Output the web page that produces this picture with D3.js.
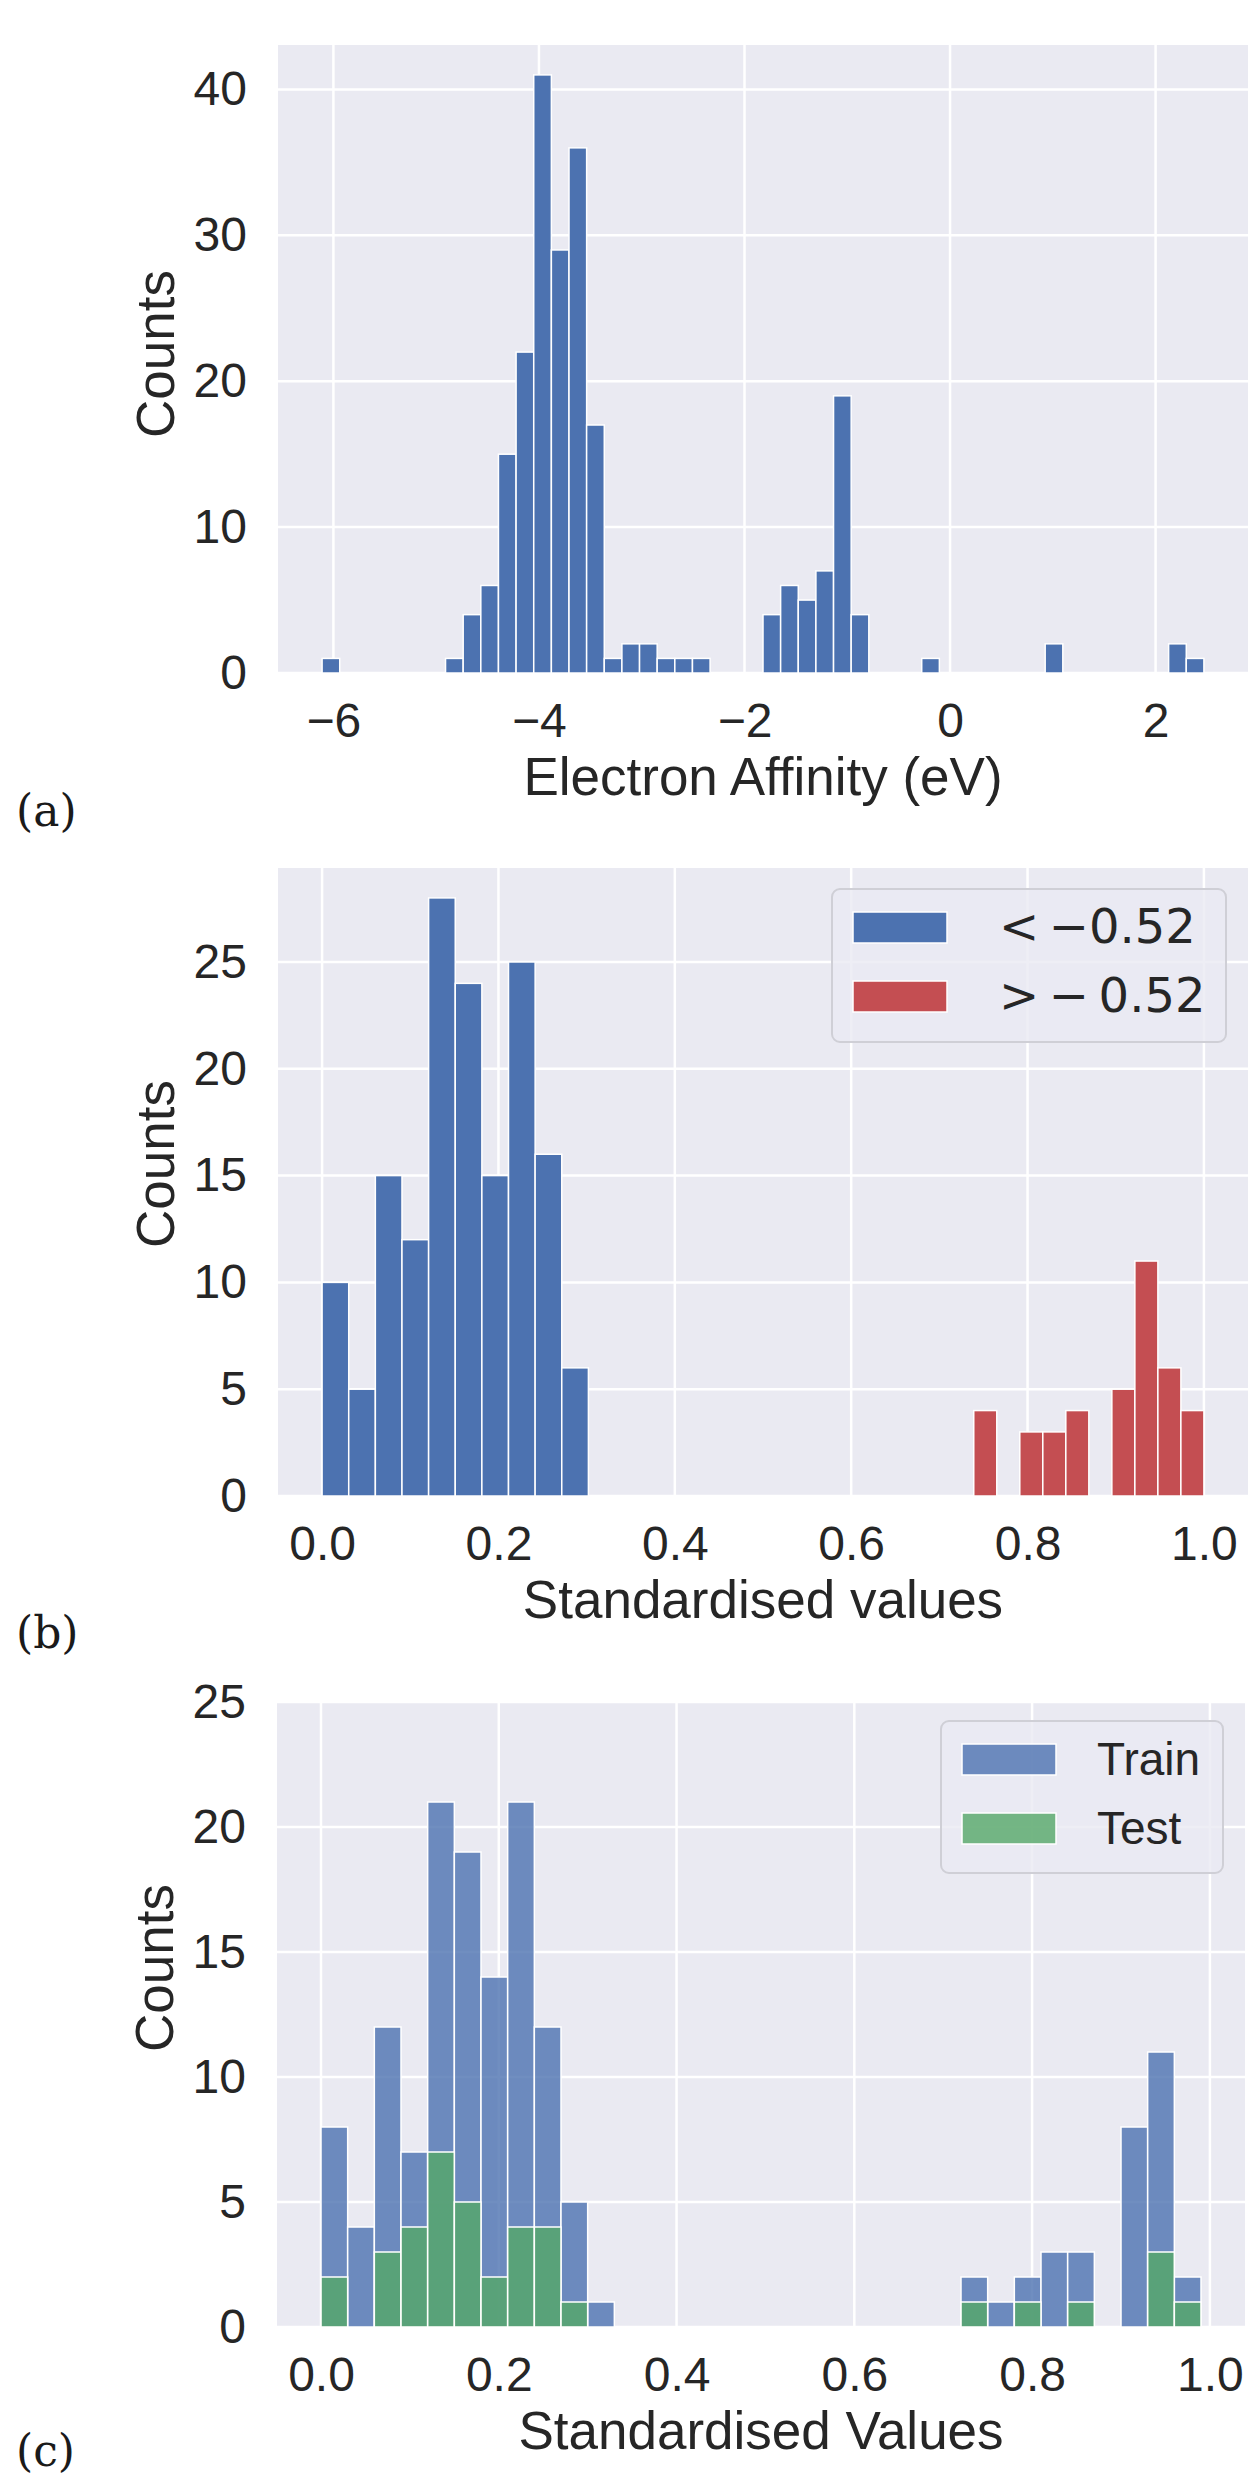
<!DOCTYPE html>
<html>
<head>
<meta charset="utf-8">
<script src="https://cdn.jsdelivr.net/npm/d3@7"></script>
<style>
body { margin: 0; background: #fff; }
svg { display: block; }
.tick text { font-family: "Liberation Sans", Arial, sans-serif; font-size: 48px; fill: #262626; }
.lab { font-family: "Liberation Sans", Arial, sans-serif; font-size: 53px; fill: #262626; }
.panel { font-family: "DejaVu Serif", "Liberation Serif", serif; font-size: 44px; fill: #1a1a1a; }
</style>
</head>
<body>
<svg width="1260" height="2480"></svg>
<script>
// (a) electron affinity, 50 bins between the min and max value
const eaRange = [-6.11, 2.47];
const eaCounts = [1,0,0,0,0,0,0,1,4,6, 15,22,41,29,36,17,1,2,2,1,
                  1,1,0,0,0,4,6,5,7,19, 4,0,0,0,1,0,0,0,0,0,
                  0,2,0,0,0,0,0,0,2,1];
const eaTicksX = [-6, -4, -2, 0, 2];
const eaTicksY = [0, 10, 20, 30, 40];

// (b) standardised values, split at -0.52 (10 bins each)
const lowRange = [0, 0.302];
const lowCounts = [10,5,15,12,28,24,15,25,16,6];
const highRange = [0.739, 1.0];
const highCounts = [4,0,3,3,4,0,5,11,6,4];
const stdTicksX = [0, 0.2, 0.4, 0.6, 0.8, 1.0];
const stdTicksY = [0, 5, 10, 15, 20, 25];

// (c) train / test, 33 bins of 0.03
const splitRange = [0, 0.99];
const trainCounts = [8,4,12,7,21,19,14,21,12,5,1, 0,0,0,0,0,0,0,0,0,0,0,0,0, 2,1,2,3,3,0,8,11,2];
const testCounts  = [2,0,3,4,7,5,2,4,4,1,0, 0,0,0,0,0,0,0,0,0,0,0,0,0, 1,0,1,0,1,0,0,3,1];

const blue = "#4c72b0", red = "#c44e52", green = "#55a868";
const svg = d3.select("svg");

function bins(range, counts) {
	const w = (range[1] - range[0]) / counts.length;
	return counts.map((n, i) => ({x0: range[0] + i * w, x1: range[0] + (i + 1) * w, n: n}));
}

function margin5(lo, hi) {
	const m = (hi - lo) * 0.05;
	return [lo - m, hi + m];
}

function panel(o) {
	const g = svg.append("g");
	const x = d3.scaleLinear().domain(o.xdom).range([o.left, o.right]);
	const y = d3.scaleLinear().domain(o.ydom).range([o.bottom, o.top]);

	g.append("rect")
		.attr("x", o.left).attr("y", o.top)
		.attr("width", o.right - o.left).attr("height", o.bottom - o.top)
		.attr("fill", "#eaeaf2");

	g.append("g").selectAll("line").data(o.xticks).join("line")
		.attr("x1", d => x(d)).attr("x2", d => x(d))
		.attr("y1", o.top).attr("y2", o.bottom)
		.attr("stroke", "#fff").attr("stroke-width", 2.5);
	g.append("g").selectAll("line").data(o.yticks).join("line")
		.attr("x1", o.left).attr("x2", o.right)
		.attr("y1", d => y(d)).attr("y2", d => y(d))
		.attr("stroke", "#fff").attr("stroke-width", 2.5);

	g.append("g").attr("transform", "translate(0," + o.bottom + ")")
		.call(d3.axisBottom(x).tickValues(o.xticks).tickSize(0).tickPadding(30).tickFormat(o.xfmt))
		.call(a => a.select(".domain").remove());
	g.append("g").attr("transform", "translate(" + o.left + ",0)")
		.call(d3.axisLeft(y).tickValues(o.yticks).tickSize(0).tickPadding(31).tickFormat(d3.format("d")))
		.call(a => a.select(".domain").remove());

	g.append("text").attr("class", "lab")
		.attr("x", (o.left + o.right) / 2).attr("y", o.bottom + 122)
		.attr("text-anchor", "middle").text(o.xlabel);
	g.append("text").attr("class", "lab")
		.attr("transform", "translate(" + (o.left - 104) + "," + o.ylabelY + ") rotate(-90)")
		.attr("text-anchor", "middle").text("Counts");
	g.append("text").attr("class", "panel")
		.attr("x", 16).attr("y", o.tagY).text(o.tag);

	return {g: g, x: x, y: y};
}

function bars(p, data, color, opacity) {
	p.g.append("g").selectAll("rect").data(data.filter(d => d.n > 0)).join("rect")
		.attr("x", d => p.x(d.x0))
		.attr("width", d => p.x(d.x1) - p.x(d.x0))
		.attr("y", d => p.y(d.n))
		.attr("height", d => p.y(0) - p.y(d.n))
		.attr("fill", color)
		.attr("fill-opacity", opacity)
		.attr("stroke", "#fff").attr("stroke-width", 1.5);
}

function legend(box, items, fontFamily, fontSize) {
	const lg = svg.append("g");
	lg.append("rect")
		.attr("x", box.x).attr("y", box.y).attr("width", box.w).attr("height", box.h)
		.attr("rx", 8).attr("fill", "#eaeaf2").attr("fill-opacity", 0.8)
		.attr("stroke", "#cfcfd6").attr("stroke-width", 2);
	const row = lg.selectAll("g").data(items).join("g")
		.attr("transform", (d, i) => "translate(" + (box.x + 21) + "," + (box.y + 23 + i * box.step) + ")");
	row.append("rect").attr("width", 94).attr("height", 31)
		.attr("fill", d => d.color).attr("fill-opacity", d => d.opacity)
		.attr("stroke", "#fff").attr("stroke-width", 1.5);
	row.append("text")
		.attr("x", box.textX).attr("y", 31)
		.style("font-family", fontFamily).style("font-size", fontSize + "px").style("fill", "#262626")
		.style("white-space", "pre")
		.text(d => d.label);
}

// (a)
const pa = panel({
	left: 278, right: 1248, top: 45, bottom: 673,
	xdom: margin5(eaRange[0], eaRange[1]), ydom: [0, 41 * 1.05],
	xticks: eaTicksX, yticks: eaTicksY, xfmt: d3.format("d"),
	xlabel: "Electron Affinity (eV)", ylabelY: 354, tag: "(a)", tagY: 826
});
bars(pa, bins(eaRange, eaCounts), blue, 1);

// (b)
const pb = panel({
	left: 278, right: 1248, top: 868, bottom: 1496,
	xdom: margin5(0, 1), ydom: [0, 28 * 1.05],
	xticks: stdTicksX, yticks: stdTicksY, xfmt: d3.format(".1f"),
	xlabel: "Standardised values", ylabelY: 1164, tag: "(b)", tagY: 1648
});
bars(pb, bins(lowRange, lowCounts), blue, 1);
bars(pb, bins(highRange, highCounts), red, 1);
legend({x: 832, y: 889, w: 394, h: 153, step: 69, textX: 146},
	[{label: "<\u2009\u22120.52", color: blue, opacity: 1},
	 {label: ">\u2009\u2212\u20090.52", color: red, opacity: 1}],
	"DejaVu Sans", 48);

// (c)
const pc = panel({
	left: 277, right: 1245, top: 1702, bottom: 2327,
	xdom: margin5(splitRange[0], splitRange[1]), ydom: [0, 25],
	xticks: stdTicksX, yticks: stdTicksY, xfmt: d3.format(".1f"),
	xlabel: "Standardised Values", ylabelY: 1968, tag: "(c)", tagY: 2466
});
bars(pc, bins(splitRange, trainCounts), blue, 0.8);
bars(pc, bins(splitRange, testCounts), green, 0.8);
legend({x: 941, y: 1721, w: 282, h: 152, step: 69, textX: 135},
	[{label: "Train", color: blue, opacity: 0.8},
	 {label: "Test", color: green, opacity: 0.8}],
	"Liberation Sans", 46);
</script>
</body>
</html>
